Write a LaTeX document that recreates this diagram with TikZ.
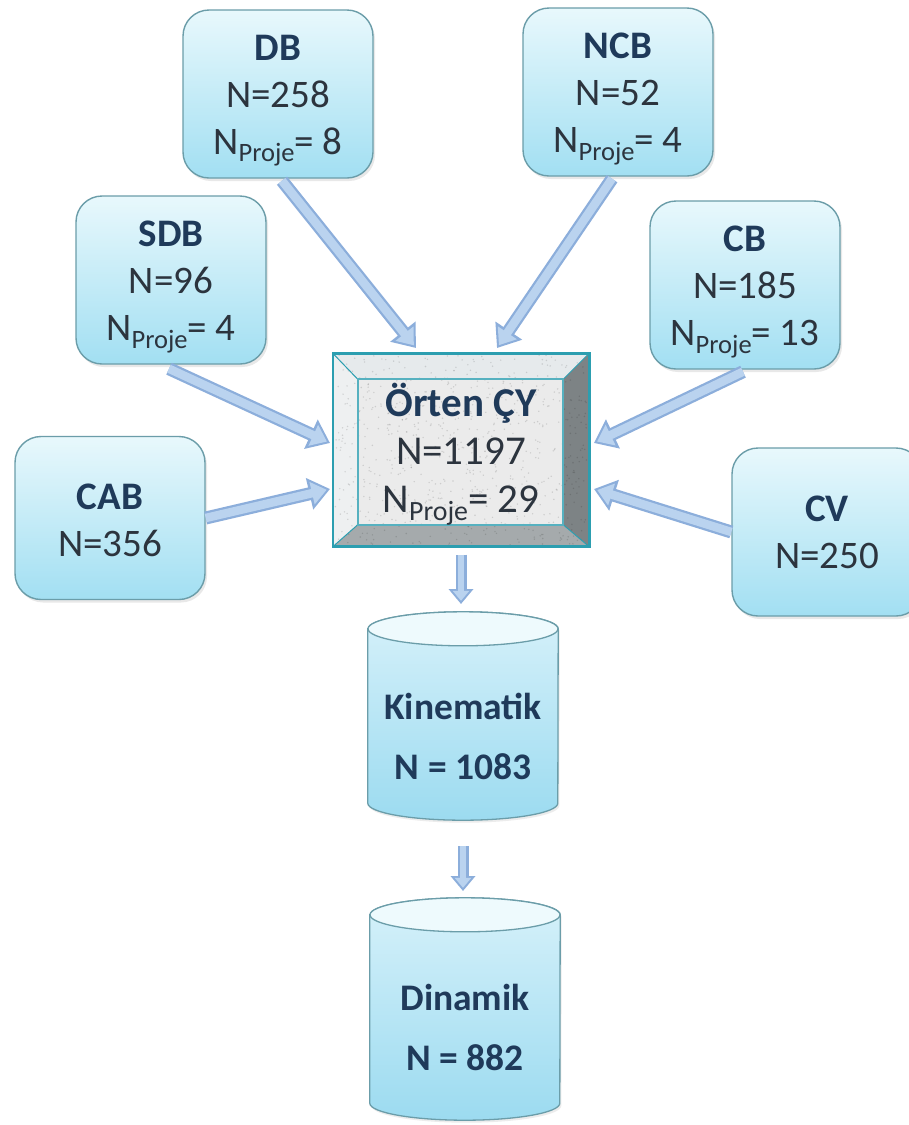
\documentclass[tikz,border=0pt]{standalone}
\usepackage{fontspec}
\setmainfont{Carlito}
\usetikzlibrary{calc,arrows.meta,shadows,backgrounds}

\definecolor{boxtop}{HTML}{E8F8FC}
\definecolor{boxbot}{HTML}{A2DFF2}
\definecolor{boxedge}{HTML}{6B9DA9}
\definecolor{titlecol}{HTML}{1F3A5A}
\definecolor{numcol}{HTML}{2C343E}
\definecolor{arrowedge}{HTML}{8CAEDB}
\definecolor{arrowfill}{HTML}{BAD3EF}
\definecolor{frameteal}{HTML}{2C9EB0}
\definecolor{facelight}{HTML}{E6EAEC}
\definecolor{faceleft}{HTML}{EEF0F1}
\definecolor{facebottom}{HTML}{A5AAAC}
\definecolor{faceright}{HTML}{7D8385}
\definecolor{granite}{HTML}{EBEBEB}
\definecolor{cyltop}{HTML}{D6F1FA}
\definecolor{cylbot}{HTML}{9CDBF0}
\definecolor{cyllid}{HTML}{EEFAFD}

% subscript set as a smaller, lowered word
\newcommand\subword[1]{\raisebox{-0.38ex}{\scalebox{0.68}{#1}}}

\begin{document}
\begin{tikzpicture}[x=1pt,y=1pt,
  srcbox/.style={draw=boxedge, line width=1.4pt, rounded corners=26pt,
    top color=boxtop, bottom color=boxbot,
    minimum width=190pt, minimum height=168pt,
    drop shadow={opacity=0.18, shadow xshift=2pt, shadow yshift=-3pt}},
  boxtext/.style={align=center, text=numcol, font=\fontsize{39}{47}\selectfont},
  corebox/.style={minimum width=256pt, minimum height=193pt, inner sep=0pt},
  coretext/.style={align=center, text=numcol, font=\fontsize{41}{48}\selectfont},
  drumbox/.style={minimum width=190pt, inner sep=0pt},
  drumtext/.style={align=center, text=titlecol,
    font=\fontsize{37.5}{60}\selectfont\bfseries},
  flowout/.style={draw=arrowedge, line width=13pt,
    -{Triangle[length=21pt,width=31pt]}},
  flowin/.style={draw=arrowfill, line width=8.5pt, shorten >=3.4pt,
    -{Triangle[length=15pt,width=22pt]}},
  dropout/.style={draw=arrowedge, line width=11pt,
    -{Triangle[length=15pt,width=24pt]}},
  dropin/.style={draw=arrowfill, line width=6.5pt, shorten >=3.2pt,
    -{Triangle[length=10pt,width=16pt]}}
]
\useasboundingbox (0,0) rectangle (909,-1125);

% ---- source boxes ----
\node[srcbox] (DB)  at (278,-94)  {};
\node[srcbox] (NCB) at (618,-92)  {};
\node[srcbox] (SDB) at (171,-280) {};
\node[srcbox] (CB)  at (745,-285) {};
\node[srcbox, minimum height=163pt] (CAB) at (110,-518) {};
\node[srcbox] (CV)  at (827,-532) {};

\node[boxtext] (DBtxt)  at ($(DB.center)+(0,-7)$)  {\textbf{\color{titlecol}DB}\\N=258\\N\subword{Proje}= 8};
\node[boxtext] (NCBtxt) at ($(NCB.center)+(0,-7)$) {\textbf{\color{titlecol}NCB}\\N=52\\N\subword{Proje}= 4};
\node[boxtext] (SDBtxt) at ($(SDB.center)+(0,-7)$) {\textbf{\color{titlecol}SDB}\\N=96\\N\subword{Proje}= 4};
\node[boxtext] (CBtxt)  at ($(CB.center)+(0,-7)$)  {\textbf{\color{titlecol}CB}\\N=185\\N\subword{Proje}= 13};
\node[boxtext] (CABtxt) at ($(CAB.center)+(0,-2)$) {\textbf{\color{titlecol}CAB}\\N=356};
\node[boxtext] (CVtxt)  at ($(CV.center)+(0,0)$)   {\textbf{\color{titlecol}CV}\\N=250};

% ---- central bevelled frame ----
\node[corebox] (core) at (461,-450) {};
\node[coretext] (coretxt) at ($(core.center)+(0,-4)$)
  {\textbf{\color{titlecol}Örten ÇY}\\N=1197\\N\subword{Proje}= 29};
\begin{scope}[on background layer]
  \fill[white] (0,0) rectangle (909,-1125);
  \coordinate (onw) at (core.north west);
  \coordinate (one) at (core.north east);
  \coordinate (osw) at (core.south west);
  \coordinate (ose) at (core.south east);
  \coordinate (inw) at ($(onw)+(25,-26)$);
  \coordinate (ine) at ($(one)+(-26,-26)$);
  \coordinate (isw) at ($(osw)+(25,22)$);
  \coordinate (ise) at ($(ose)+(-26,22)$);
  \fill[facelight]  (onw) -- (one) -- (ine) -- (inw) -- cycle;
  \fill[faceright]  (one) -- (ose) -- (ise) -- (ine) -- cycle;
  \fill[facebottom] (osw) -- (ose) -- (ise) -- (isw) -- cycle;
  \fill[faceleft]   (onw) -- (osw) -- (isw) -- (inw) -- cycle;
  \fill[granite] (inw) rectangle (ise);
  % speckled stone texture
  \pgfmathsetseed{11}
  \foreach \k in {1,...,700}{
    \fill[black, opacity=0.13] ($(core.center)+(rand*126,rand*95)$) circle[radius=0.8pt];
  }
  \draw[frameteal, line width=1pt] (onw) -- (inw) (one) -- (ine) (osw) -- (isw) (ose) -- (ise);
  \draw[frameteal!80, line width=2pt] (inw) rectangle (ise);
  \draw[frameteal, line width=2.6pt] (onw) rectangle (ose);
\end{scope}

% ---- storage drums ----
\node[drumbox, minimum height=208pt] (kin) at (463,-716) {};
\node[drumbox, minimum height=222pt] (dyn) at (465,-1009) {};
\node[drumtext] (kintxt) at ($(kin.center)+(0,-20)$) {Kinematik\\N = 1083};
\node[drumtext] (dyntxt) at ($(dyn.center)+(0,-18)$) {Dinamik\\N = 882};
\begin{scope}[on background layer]
  \foreach \c in {kin,dyn}{
    \path[top color=cyltop, bottom color=cylbot, draw=boxedge, line width=1.3pt,
          drop shadow={opacity=0.15, shadow xshift=1.5pt, shadow yshift=-2.5pt}]
      ($(\c.north west)+(0,-17)$) -- ($(\c.south west)+(0,17)$)
      arc[start angle=180, end angle=360, x radius=95, y radius=17]
      -- ($(\c.north east)+(0,-17)$)
      arc[start angle=0, end angle=180, x radius=95, y radius=17] -- cycle;
    \draw[fill=cyllid, draw=boxedge, line width=1.3pt]
      ($(\c.north)+(0,-17)$) ellipse[x radius=95, y radius=17];
  }
\end{scope}

% ---- connector end points on the frame ----
\coordinate (eDB)  at (416,-348);
\coordinate (eNCB) at (497,-348);
\coordinate (eSDB) at (330,-443);
\coordinate (eCAB) at (330,-489);
\coordinate (eCB)  at (594,-443);
\coordinate (eCV)  at (594,-489);

\coordinate (sDB)  at ($(DB.south)+(4,-2)$);
\coordinate (sNCB) at ($(NCB.south)+(-6,-2)$);
\coordinate (sSDB) at ($(SDB.south)+(-2,-4)$);
\coordinate (sCB)  at ($(CB.south)+(-2,-2)$);

\foreach \s/\e in {sDB/eDB, sNCB/eNCB, sSDB/eSDB, CAB.east/eCAB, sCB/eCB, CV.west/eCV}{
  \draw[flowout] (\s) -- (\e);
  \draw[flowin]  (\s) -- (\e);
}

% ---- downward flow ----
\coordinate (dropA) at (461,-604);
\coordinate (dropB) at (463,-891);
\draw[dropout] ($(core.south)+(0,-8)$) -- (dropA);
\draw[dropin]  ($(core.south)+(0,-8)$) -- (dropA);
\draw[dropout] ($(kin.south)+(0,-26)$) -- (dropB);
\draw[dropin]  ($(kin.south)+(0,-26)$) -- (dropB);
\end{tikzpicture}
\end{document}
